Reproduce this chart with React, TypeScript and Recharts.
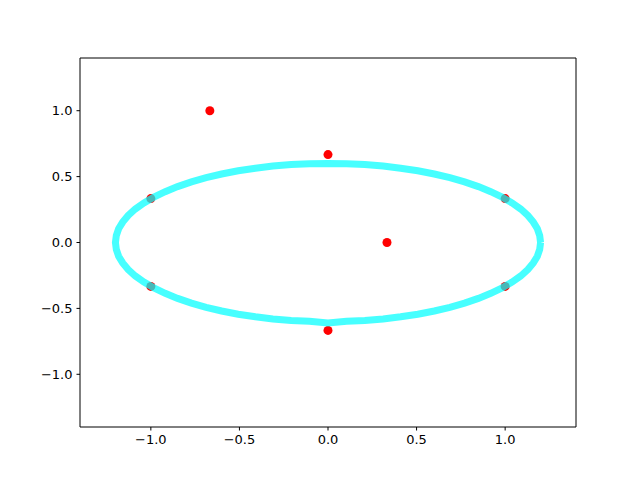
import React from 'react';
import { ScatterChart, Scatter, XAxis, YAxis, ReferenceLine } from 'recharts';

// red sample points
const redX = [-0.667, 0, -1, 1, 0.333, -1, 1, 0];
const redY = [1, 0.667, 0.333, 0.333, 0, -0.333, -0.333, -0.667];

// cyan curve, traced around the ellipse (counter-clockwise from the right end)
const ellipseX = [
  1.2, 1.195, 1.182, 1.159, 1.128, 1.088, 1.039, 0.983, 0.919, 0.849, 0.771, 0.688, 0.6, 0.507, 0.41, 0.311, 0.208, 0.105,
  0, -0.105, -0.208, -0.311, -0.41, -0.507, -0.6, -0.688, -0.771, -0.849, -0.919, -0.983, -1.039, -1.088, -1.128, -1.159, -1.182, -1.195,
  -1.2, -1.195, -1.182, -1.159, -1.128, -1.088, -1.039, -0.983, -0.919, -0.849, -0.771, -0.688, -0.6, -0.507, -0.41, -0.311, -0.208, -0.105,
  0, 0.105, 0.208, 0.311, 0.41, 0.507, 0.6, 0.688, 0.771, 0.849, 0.919, 0.983, 1.039, 1.088, 1.128, 1.159, 1.182, 1.195, 1.2,
];
const ellipseY = [
  0, 0.052, 0.104, 0.155, 0.205, 0.254, 0.3, 0.344, 0.386, 0.424, 0.46, 0.492, 0.52, 0.544, 0.564, 0.58, 0.591, 0.598,
  0.6, 0.598, 0.591, 0.58, 0.564, 0.544, 0.52, 0.492, 0.46, 0.424, 0.386, 0.344, 0.3, 0.254, 0.205, 0.155, 0.104, 0.052,
  0, -0.052, -0.104, -0.155, -0.205, -0.254, -0.3, -0.344, -0.386, -0.424, -0.46, -0.492, -0.52, -0.544, -0.564, -0.58, -0.591, -0.598,
  -0.61, -0.598, -0.591, -0.58, -0.564, -0.544, -0.52, -0.492, -0.46, -0.424, -0.386, -0.344, -0.3, -0.254, -0.205, -0.155, -0.104, -0.052, 0,
];

const ticks = [-1, -0.5, 0, 0.5, 1];
const limit = 1.4;

const redData = redX.map((x, i) => ({ x, y: redY[i] }));
const ellipseData = ellipseX.map((x, i) => ({ x, y: ellipseY[i] }));

const fmt = (v: number) => (v < 0 ? '\u2212' : '') + Math.abs(v).toFixed(1);
const tickStyle = { fill: '#000', fontSize: 13, fontFamily: 'DejaVu Sans' };

const App: React.FC = () => {
  return (
    <div style={{ position: 'absolute', left: 0, top: 0, width: 640, height: 480, background: '#fff' }}>
      <ScatterChart width={640} height={480} margin={{ top: 58, right: 64, bottom: 23, left: 30 }}>
        <XAxis
          type="number"
          dataKey="x"
          domain={[-limit, limit]}
          ticks={ticks}
          tickFormatter={fmt}
          allowDataOverflow
          height={30}
          stroke="#000"
          tick={tickStyle}
          tickSize={3.5}
          tickMargin={4}
        />
        <YAxis
          type="number"
          dataKey="y"
          domain={[-limit, limit]}
          ticks={ticks}
          tickFormatter={fmt}
          allowDataOverflow
          width={50}
          stroke="#000"
          tick={tickStyle}
          tickSize={3.5}
          tickMargin={4}
        />
        <ReferenceLine y={limit} stroke="#000" ifOverflow="visible" />
        <ReferenceLine x={limit} stroke="#000" ifOverflow="visible" />
        <Scatter data={redData} fill="#ff0000" shape={(p: any) => <circle cx={p.cx} cy={p.cy} r={4.5} fill="#ff0000" />} isAnimationActive={false} />
        <Scatter
          data={ellipseData}
          line={{ stroke: '#00ffff', strokeWidth: 7, strokeOpacity: 0.72 }}
          lineType="joint"
          shape={() => null}
          isAnimationActive={false}
        />
      </ScatterChart>
    </div>
  );
};

export default App;
